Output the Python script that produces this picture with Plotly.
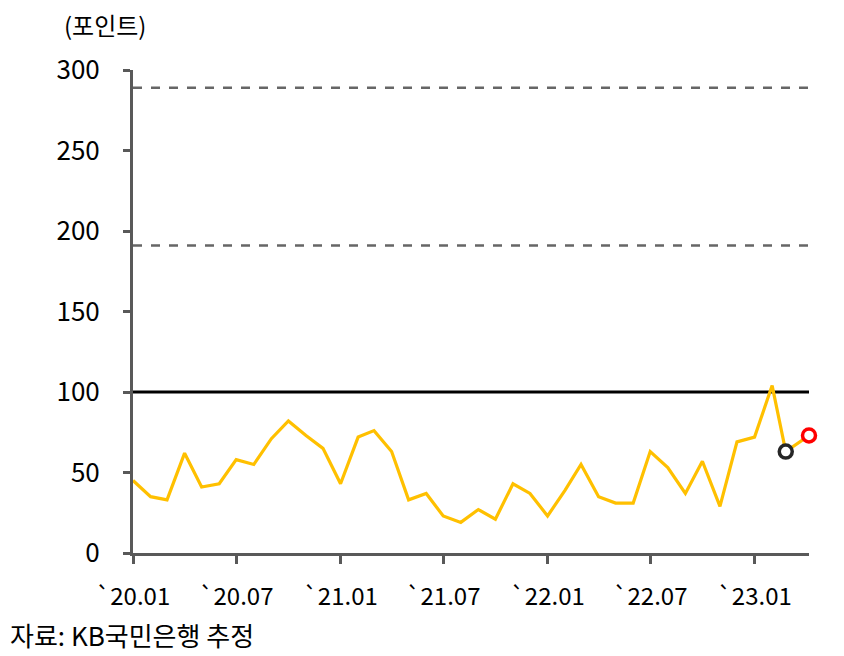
import plotly.graph_objects as go
import pandas as pd

# 월별 지수 (2020.01 ~ 2023.02)
months = pd.date_range("2020-01-01", "2023-02-01", freq="MS").strftime("%Y-%m-%d").tolist()
index_vals = [45, 35, 33, 62, 41, 43, 58, 55, 71, 82, 73, 65,
              43, 72, 76, 63, 33, 37, 23, 19, 27, 21, 43, 37,
              23, 39, 55, 35, 31, 31, 63, 53, 37, 57, 29, 69,
              72, 104]

# 최근 / 추정 포인트
latest_dates = ["2023-02-25", "2023-04-07"]
latest_vals = [63, 73]
latest_colors = ["#262626", "#FF0000"]

dashed_levels = [289, 191]
base_level = 100

tick_dates = ["2020-01-01", "2020-07-01", "2021-01-01", "2021-07-01",
              "2022-01-01", "2022-07-01", "2023-01-01"]
tick_labels = ["`20.01", "`20.07", "`21.01", "`21.07", "`22.01", "`22.07", "`23.01"]

FONT = "Noto Sans CJK KR"
AXIS_GREY = "#595959"

fig = go.Figure()

fig.add_trace(go.Scatter(
    x=months + latest_dates,
    y=index_vals + latest_vals,
    mode="lines",
    line=dict(color="#FFC000", width=3.2),
    cliponaxis=False,
    showlegend=False,
))

fig.add_trace(go.Scatter(
    x=latest_dates,
    y=latest_vals,
    mode="markers",
    marker=dict(symbol="circle", size=13, color="white",
                line=dict(color=latest_colors, width=3.5)),
    cliponaxis=False,
    showlegend=False,
))

for lvl in dashed_levels:
    fig.add_shape(type="line", xref="paper", x0=0, x1=1, y0=lvl, y1=lvl,
                  line=dict(color="#666666", width=2.5, dash="dash"), layer="below")

fig.add_shape(type="line", xref="paper", x0=0, x1=1, y0=base_level, y1=base_level,
              line=dict(color="black", width=3), layer="below")

fig.add_annotation(text="(포인트)", xref="paper", yref="paper", x=-0.041, y=1.095,
                   xanchor="center", yanchor="middle", showarrow=False,
                   font=dict(family=FONT, size=24, color="black"))
fig.add_annotation(text="자료: KB국민은행 추정", xref="paper", yref="paper", x=-0.185, y=-0.168,
                   xanchor="left", yanchor="middle", showarrow=False,
                   font=dict(family=FONT, size=26, color="black"))

fig.update_layout(
    width=836,
    height=648,
    margin=dict(l=125, r=35, t=62, b=103),
    plot_bgcolor="white",
    paper_bgcolor="white",
    font=dict(family=FONT, size=26, color="black"),
)

fig.update_xaxes(
    type="date",
    range=["2020-01-01", "2023-04-07"],
    tickvals=tick_dates,
    ticktext=tick_labels,
    showgrid=False,
    zeroline=False,
    showline=True,
    linecolor=AXIS_GREY,
    linewidth=3,
    ticks="outside",
    ticklen=8,
    tickwidth=2.5,
    tickcolor=AXIS_GREY,
    ticklabelstandoff=12,
    tickfont=dict(family=FONT, size=24),
)

fig.update_yaxes(
    range=[0, 300],
    tickvals=[0, 50, 100, 150, 200, 250, 300],
    showgrid=False,
    zeroline=False,
    showline=True,
    linecolor=AXIS_GREY,
    linewidth=3,
    ticks="outside",
    ticklen=7,
    tickwidth=2.5,
    tickcolor=AXIS_GREY,
    ticklabelstandoff=18,
    tickfont=dict(family=FONT, size=26),
)

fig.write_html("out.html")
